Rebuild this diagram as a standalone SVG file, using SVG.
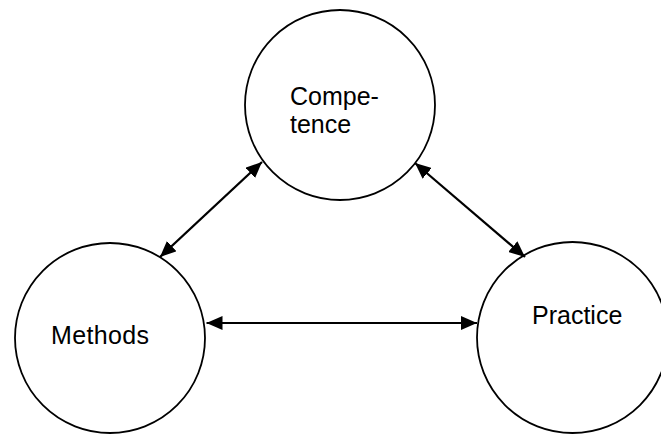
<svg xmlns="http://www.w3.org/2000/svg" width="661" height="435" viewBox="0 0 661 435">
  <style>
    .node circle { fill: #ffffff; stroke: #000000; stroke-width: 1.8; }
    .node text { font-family: "Liberation Sans", Arial, sans-serif; font-size: 25px; fill: #000000; }
    .link { stroke: #000000; stroke-width: 2.2; fill: none; marker-start: url(#head); marker-end: url(#head); }
  </style>
  <defs>
    <marker id="head" markerUnits="userSpaceOnUse" markerWidth="16" markerHeight="14" refX="16" refY="7" orient="auto-start-reverse">
      <path d="M0,0 L16,7 L0,14 Z" fill="#000000"/>
    </marker>
  </defs>
  <rect width="661" height="435" fill="#ffffff"/>

  <g id="competence" class="node">
    <circle cx="340" cy="105" r="95"/>
    <text x="290" y="105">Compe-</text>
    <text x="290" y="133">tence</text>
  </g>

  <g id="methods" class="node">
    <circle cx="110" cy="338" r="95"/>
    <text x="51" y="344" textLength="98">Methods</text>
  </g>

  <g id="practice" class="node">
    <circle cx="572.5" cy="337.5" r="95.5"/>
    <text x="532" y="323.5">Practice</text>
  </g>

  <g id="connectors">
    <line class="link" x1="160" y1="257" x2="262" y2="162"/>
    <line class="link" x1="415" y1="163" x2="525" y2="257"/>
    <line class="link" x1="206.5" y1="323" x2="477" y2="323"/>
  </g>
</svg>
